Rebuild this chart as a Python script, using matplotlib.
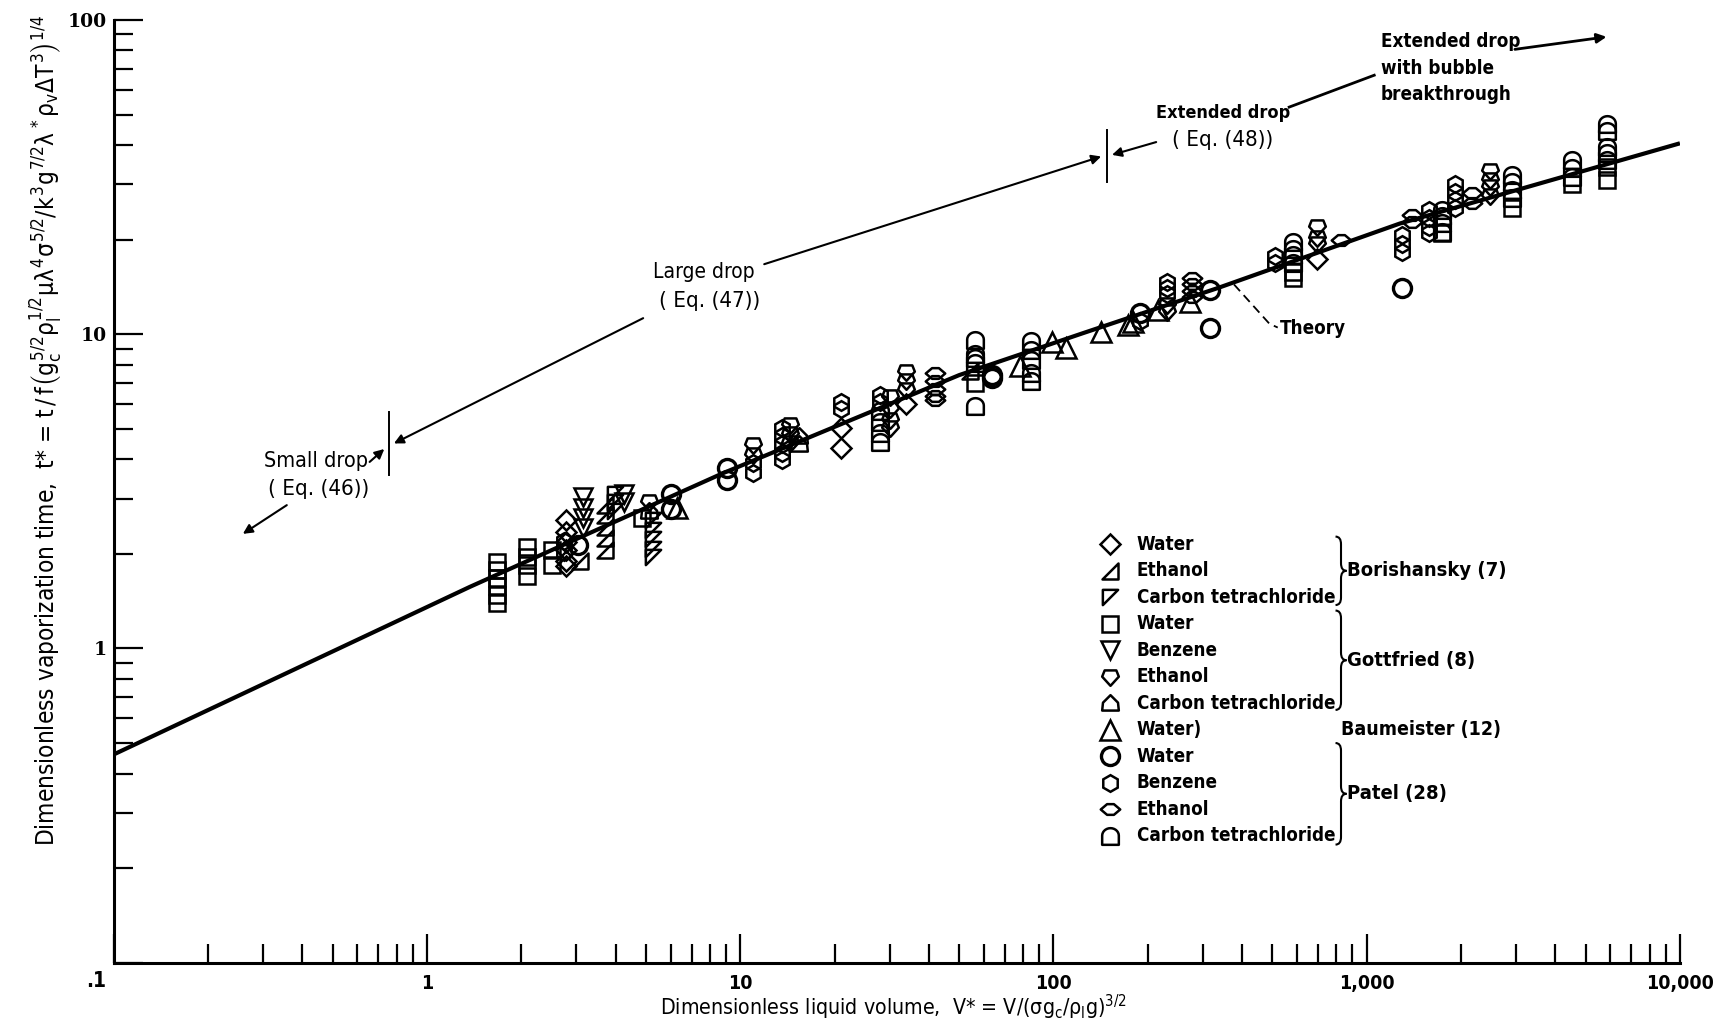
import numpy as np
import matplotlib
matplotlib.use("Agg")
import matplotlib.pyplot as plt
from matplotlib.path import Path
from matplotlib.patches import PathPatch

# theory curve
theory_v = [0.1, 1.37, 8.8, 50, 124, 333, 1276, 10000]
theory_t = [0.46, 1.57, 3.61, 7.41, 10.07, 14.0, 22.5, 40.5]

# Borishansky (7)
bor_water_v = [2.78, 2.78, 2.78, 2.78, 2.78, 2.78, 21.0, 21.0, 33.9, 693]
bor_water_t = [2.56, 2.35, 2.18, 2.06, 1.90, 1.83, 5.02, 4.34, 6.00, 17.4]
bor_eth_v = [3.07, 3.70, 3.70, 3.70, 3.70, 3.70, 54.2]
bor_eth_t = [1.90, 2.87, 2.65, 2.44, 2.25, 2.06, 7.64]
bor_ccl4_v = [3.98, 3.98, 3.98, 5.28, 5.28, 5.28, 5.28, 5.28]
bor_ccl4_t = [3.09, 2.92, 2.74, 2.56, 2.38, 2.23, 2.08, 1.95]

# Gottfried (8)
gott_water_v = [1.67, 1.67, 1.67, 1.67, 1.67, 1.67, 2.08, 2.08, 2.08, 2.08, 2.51, 2.51,
                4.87, 56.0, 580, 580, 1734, 2913, 4516, 5854, 5854]
gott_water_t = [1.88, 1.78, 1.67, 1.58, 1.48, 1.40, 2.11, 1.96, 1.84, 1.70, 2.06, 1.84,
                2.61, 6.99, 15.8, 15.1, 21.0, 25.3, 30.0, 34.1, 31.0]
gott_benz_v = [3.14, 3.14, 3.14, 3.14, 4.25, 4.25]
gott_benz_t = [3.04, 2.80, 2.61, 2.42, 3.09, 2.92]
gott_eth_v = [5.12, 10.97, 10.97, 14.45, 14.45, 14.45, 30.0, 30.0, 30.0, 30.0, 33.9, 33.9, 33.9,
              230, 230, 693, 693, 693, 2477, 2477, 2477, 2477]
gott_eth_t = [2.92, 4.44, 4.13, 5.14, 4.82, 4.52, 6.29, 5.80, 5.35, 5.02, 7.58, 7.10, 6.66,
              12.4, 11.8, 22.0, 20.3, 19.4, 33.0, 31.0, 29.5, 27.6]
gott_ccl4_v = [5.12, 15.4, 15.4]
gott_ccl4_t = [2.74, 4.74, 4.48]

# Baumeister (12)
baum_water_v = [6.27, 78.2, 98.9, 110, 142, 173, 180, 215, 273]
baum_water_t = [2.80, 7.95, 9.43, 9.05, 10.2, 10.7, 10.9, 11.9, 12.7]

# Patel (28)
patel_water_v = [3.04, 6.02, 6.02, 9.10, 9.10, 63.8, 63.8, 189, 315, 315, 1294]
patel_water_t = [2.13, 3.09, 2.78, 3.75, 3.43, 7.40, 7.28, 11.7, 13.8, 10.5, 14.0]
patel_benz_v = [2.74, 2.74, 10.97, 10.97, 13.55, 13.55, 13.55, 13.55, 13.55, 21.0, 21.0, 27.9, 27.9,
                189, 230, 230, 230, 509, 509, 1294, 1294, 1294, 1586, 1586, 1586, 1586,
                1911, 1911, 1911, 1911]
patel_benz_t = [2.20, 2.03, 3.90, 3.63, 5.02, 4.74, 4.48, 4.20, 3.97, 6.09, 5.76, 6.40, 6.09,
                11.0, 14.7, 14.0, 13.4, 17.7, 16.9, 20.7, 19.4, 18.3, 24.9, 23.5, 22.0, 21.0,
                30.0, 28.3, 26.8, 25.3]
patel_eth_v = [41.8, 41.8, 41.8, 41.8, 41.8, 277, 277, 277, 277, 829, 1393, 1393, 2176, 2176]
patel_eth_t = [7.52, 7.10, 6.71, 6.34, 6.19, 15.1, 14.4, 13.7, 13.1, 20.0, 24.0, 22.8, 28.1, 26.1]
patel_ccl4_v = [27.9, 27.9, 27.9, 27.9, 56.0, 56.0, 56.0, 56.0, 56.0, 84.8, 84.8, 84.8, 84.8, 84.8,
                580, 580, 580, 580, 1734, 1734, 1734, 1734, 2913, 2913, 2913, 2913,
                4516, 4516, 4516, 5854, 5854, 5854, 5854, 5854]
patel_ccl4_t = [5.71, 5.27, 4.86, 4.55, 9.58, 8.63, 8.42, 8.08, 5.90, 9.50, 8.91, 8.28, 7.55, 7.10,
                19.7, 18.7, 17.9, 16.9, 24.9, 23.7, 22.6, 21.2, 32.2, 30.4, 28.8, 27.2,
                35.8, 33.8, 31.7, 46.7, 44.2, 39.5, 37.6, 35.8]

xtick_vals = [0.1, 1, 10, 100, 1000, 10000]
xtick_text = ['', '1', '10', '100', '1,000', '10,000']
ytick_vals = [0.1, 1, 10, 100]
ytick_text = ['', '1', '10', '100']

# condensed sans everywhere
plt.rcParams['font.family'] = ['DejaVu Sans']
plt.rcParams['font.stretch'] = 'condensed'
plt.rcParams['mathtext.fontset'] = 'custom'
plt.rcParams['mathtext.rm'] = 'DejaVu Sans:stretch=condensed'
plt.rcParams['mathtext.it'] = 'DejaVu Sans:stretch=condensed'
plt.rcParams['mathtext.bf'] = 'DejaVu Sans:stretch=condensed:weight=bold'


def poly(pts):
    verts = list(pts) + [pts[0]]
    codes = [Path.MOVETO] + [Path.LINETO] * (len(pts) - 1) + [Path.CLOSEPOLY]
    return Path(verts, codes)


ang = np.linspace(0, np.pi, 15)
m_rtri = poly([(-1, -1), (1, -1), (1, 1)])            # Borishansky ethanol
m_ltri = poly([(-1, 1), (1, 1), (-1, -1)])            # Borishansky CCl4
m_shield = poly([(-0.7, 0.85), (0.7, 0.85), (1, 0.1), (0, -1), (-1, 0.1)])
m_house = poly([(-1, -0.85), (1, -0.85), (0.9, 0.1), (0, 1), (-0.9, 0.1)])
m_flat = poly([(-1, 0), (-0.35, 0.55), (0.35, 0.55), (1, 0), (0.35, -0.55), (-0.35, -0.55)])
m_arch = poly([(-1, -1), (1, -1)] + [(np.cos(a), 0.1 + 0.9 * np.sin(a)) for a in ang])

series = [
    (bor_water_v, bor_water_t, 'D', 10, 1.8, 'Water'),
    (bor_eth_v, bor_eth_t, m_rtri, 11, 1.8, 'Ethanol'),
    (bor_ccl4_v, bor_ccl4_t, m_ltri, 11, 1.8, 'Carbon tetrachloride'),
    (gott_water_v, gott_water_t, 's', 11, 1.8, 'Water'),
    (gott_benz_v, gott_benz_t, 'v', 13, 1.8, 'Benzene'),
    (gott_eth_v, gott_eth_t, m_shield, 12, 1.8, 'Ethanol'),
    (gott_ccl4_v, gott_ccl4_t, m_house, 12, 1.8, 'Carbon tetrachloride'),
    (baum_water_v, baum_water_t, '^', 14, 1.8, 'Water)'),
    (patel_water_v, patel_water_t, 'o', 13, 2.4, 'Water'),
    (patel_benz_v, patel_benz_t, 'h', 12, 1.8, 'Benzene'),
    (patel_eth_v, patel_eth_t, m_flat, 14, 1.8, 'Ethanol'),
    (patel_ccl4_v, patel_ccl4_t, m_arch, 12, 1.8, 'Carbon tetrachloride'),
]

fig = plt.figure(figsize=(17.31, 10.28), dpi=100)
ax = fig.add_axes([0.0657, 0.0635, 0.9048, 0.9171])
ax.set_xscale('log')
ax.set_yscale('log')
ax.set_xlim(0.1, 10000)
ax.set_ylim(0.1, 100)

ax.plot(theory_v, theory_t, color='black', lw=3.0, solid_capstyle='butt', zorder=3)
for v, t, m, ms, mew, lab in series:
    ax.plot(v, t, ls='none', marker=m, ms=ms, mfc='none', mec='black', mew=mew, zorder=4)

# axes look
for s in ['top', 'right']:
    ax.spines[s].set_visible(False)
for s in ['left', 'bottom']:
    ax.spines[s].set_linewidth(2.2)
ax.tick_params(which='major', direction='in', length=21, width=1.6)
ax.tick_params(which='minor', direction='in', length=14, width=1.6)
ax.set_xticks(xtick_vals)
ax.set_xticklabels(xtick_text, fontsize=14, fontweight='bold')
ax.set_yticks(ytick_vals)
ax.set_yticklabels(ytick_text, fontsize=13.5, fontweight='bold', family='DejaVu Serif',
                   fontstretch='normal')
ax.xaxis.set_minor_locator(matplotlib.ticker.LogLocator(base=10, subs=np.arange(2, 10)))
ax.yaxis.set_minor_locator(matplotlib.ticker.LogLocator(base=10, subs=np.arange(2, 10)))
ax.xaxis.set_minor_formatter(matplotlib.ticker.NullFormatter())
ax.yaxis.set_minor_formatter(matplotlib.ticker.NullFormatter())
ax.tick_params(axis='x', pad=8)
ax.tick_params(axis='y', pad=5)
ax.text(-0.011, -0.019, '.1', transform=ax.transAxes, ha='center', va='center',
        fontsize=15, fontweight='bold')

ax.text(0.498, -0.047,
        r'Dimensionless liquid volume,  V* = V/$(\sigma g_c/\rho_l g)^{3/2}$',
        transform=ax.transAxes, ha='center', va='center', fontsize=15.3)
ax.text(-0.043, 0.565,
        r'Dimensionless vaporization time,  t* = t$\,/\,f\left(g_c^{5/2}\rho_l^{1/2}\mu\lambda^4\sigma^{5/2}/k^3g^{7/2}\lambda^*\rho_v\Delta T^3\right)^{1/4}$',
        transform=ax.transAxes, ha='center', va='center', rotation=90, fontsize=17.5)

# regime annotations
arw = dict(arrowstyle='-|>', color='black', lw=1.5, mutation_scale=14)
ax.plot([0.754, 0.754], [3.57, 5.66], color='black', lw=1.4)
ax.plot([148, 148], [30.4, 44.6], color='black', lw=1.4)
ax.annotate('', xy=(0.742, 4.37), xytext=(0.646, 3.87), arrowprops=arw)
ax.annotate('', xy=(0.254, 2.29), xytext=(0.363, 2.89), arrowprops=arw)
ax.annotate('', xy=(0.77, 4.45), xytext=(4.99, 11.35), arrowprops=arw)
ax.annotate('', xy=(144.8, 37.0), xytext=(11.7, 16.6), arrowprops=arw)
ax.annotate('', xy=(150.8, 37.0), xytext=(217, 41.1), arrowprops=arw)
ax.plot([565.6, 1057], [52.8, 66.7], color='black', lw=2.0)
ax.annotate('', xy=(5950, 88.6), xytext=(2913, 80.4), arrowprops=dict(arw, lw=2.0))

fs = 13.5
fr = 15.5
ax.text(0.441, 3.94, 'Small drop', ha='center', va='center', fontsize=fr)
ax.text(0.45, 3.21, '( Eq. (46))', ha='center', va='center', fontsize=fr + 0.5)
ax.text(7.67, 15.8, 'Large drop', ha='center', va='center', fontsize=15)
ax.text(7.99, 12.8, '( Eq. (47))', ha='center', va='center', fontsize=fr + 0.5)
ax.text(347.7, 50.7, 'Extended drop', ha='center', va='center', fontsize=13, fontweight='bold')
ax.text(347.7, 41.4, '( Eq. (48))', ha='center', va='center', fontsize=fr + 0.5)
ax.text(1109, 85.1, 'Extended drop', ha='left', va='center', fontsize=fs, fontweight='bold')
ax.text(1109, 70.1, 'with bubble', ha='left', va='center', fontsize=fs, fontweight='bold')
ax.text(1109, 57.7, 'breakthrough', ha='left', va='center', fontsize=fs, fontweight='bold')

# theory leader
ax.plot([377, 489, 520], [14.4, 10.8, 10.5], color='black', lw=1.3, ls=(0, (5, 3)))
ax.text(530, 10.39, 'Theory', ha='left', va='center', fontsize=fs, fontweight='bold')

# legend drawn by hand
row0 = (872 - 493) / 854
dy = 24 / 854
for i, (v, t, m, ms, mew, lab) in enumerate(series):
    fy = row0 - i * dy
    ax.plot([0.6364], [fy], ls='none', marker=m, ms=ms, mfc='none', mec='black', mew=mew,
            transform=ax.transAxes, clip_on=False)
    ax.text(0.6533, fy, lab, transform=ax.transAxes, ha='left', va='center',
            fontsize=fs, fontweight='bold')


def brace(x, ytop, ybot, w=0.007, d=0.008):
    ym = (ytop + ybot) / 2
    verts = [(x, ytop), (x + w / 2, ytop), (x + w / 2, ytop - d),
             (x + w / 2, ym + d), (x + w / 2, ym), (x + w, ym),
             (x + w / 2, ym), (x + w / 2, ym - d),
             (x + w / 2, ybot + d), (x + w / 2, ybot), (x, ybot)]
    codes = [Path.MOVETO, Path.CURVE3, Path.CURVE3,
             Path.LINETO, Path.CURVE3, Path.CURVE3,
             Path.CURVE3, Path.CURVE3,
             Path.LINETO, Path.CURVE3, Path.CURVE3]
    ax.add_patch(PathPatch(Path(verts, codes), fc='none', ec='black', lw=1.5,
                           transform=ax.transAxes, clip_on=False))
    return ym


groups = [('Borishansky (7)', 486, 548), ('Gottfried (8)', 553, 643), ('Patel (28)', 673, 765)]
for name, y0, y1 in groups:
    ym = brace(0.7801, (872 - y0) / 854, (872 - y1) / 854)
    ax.text(0.7872, ym, name, transform=ax.transAxes, ha='left', va='center',
            fontsize=14.5, fontweight='bold')
ax.text(0.7836, (872 - 661) / 854, 'Baumeister (12)', transform=ax.transAxes,
        ha='left', va='center', fontsize=14, fontweight='bold')

fig.savefig('out.png', dpi=100)
